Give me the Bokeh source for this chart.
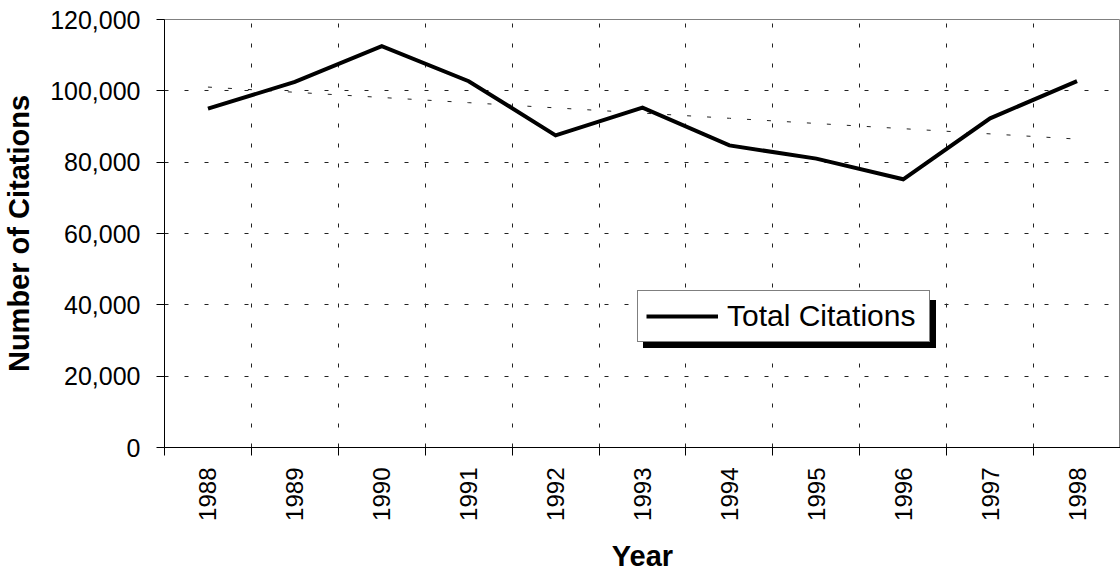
import numpy as np
from bokeh.plotting import figure
from bokeh.models import (FixedTicker, NumeralTickFormatter, Range1d, Legend,
                          LegendItem)
from bokeh.embed import file_html
from bokeh.resources import INLINE

years = ["1988", "1989", "1990", "1991", "1992", "1993", "1994", "1995",
         "1996", "1997", "1998"]
citations = [95000, 102500, 112500, 102700, 87500, 95300, 84700, 81000,
             75200, 92300, 102700]
y_ticks = [0, 20000, 40000, 60000, 80000, 100000, 120000]
series_name = "Total Citations"

xs = list(range(len(years)))
slope, intercept = np.polyfit(xs, citations, 1)
trend = [slope * x + intercept for x in xs]

FONT = "Liberation Sans"

p = figure(width=1120, height=574, output_backend="svg", toolbar_location=None,
           x_range=Range1d(-0.5, len(years) - 0.5),
           y_range=Range1d(y_ticks[0], y_ticks[-1]),
           min_border_left=164, min_border_right=0, min_border_top=19,
           min_border_bottom=127)
p.background_fill_color = "white"
p.border_fill_color = "white"
p.outline_line_color = "#808080"
p.outline_line_width = 1

# trend line
p.line(xs, trend, line_color="#222222", line_width=1, line_dash="4 16")
# data line
r = p.line(xs, citations, line_color="black", line_width=4, line_join="miter")

# x axis: labels at centres, minor ticks at band boundaries
bounds = [i - 0.5 for i in range(len(years) + 1)]
xa = p.xaxis[0]
xa.ticker = FixedTicker(ticks=xs, minor_ticks=bounds)
xa.major_label_overrides = {i: y for i, y in enumerate(years)}
xa.major_label_orientation = np.pi / 2
xa.major_tick_line_color = None
xa.minor_tick_line_color = "black"
xa.minor_tick_in = 0
xa.minor_tick_out = 8
xa.axis_line_color = "black"
xa.major_label_standoff = 12
xa.major_label_text_font = FONT
xa.major_label_text_font_size = "24px"
xa.major_label_text_color = "black"
xa.axis_label = "Year"
xa.axis_label_text_font = FONT
xa.axis_label_text_font_size = "29px"
xa.axis_label_text_font_style = "bold"
xa.axis_label_text_color = "black"
xa.axis_label_standoff = 16

ya = p.yaxis[0]
ya.ticker = FixedTicker(ticks=y_ticks)
ya.formatter = NumeralTickFormatter(format="0,0")
ya.major_tick_in = 0
ya.major_tick_out = 8
ya.minor_tick_line_color = None
ya.axis_line_color = "black"
ya.major_label_standoff = 16
ya.major_label_text_font = FONT
ya.major_label_text_font_size = "25px"
ya.major_label_text_color = "black"
ya.axis_label = "Number of Citations"
ya.axis_label_text_font = FONT
ya.axis_label_text_font_size = "29px"
ya.axis_label_text_font_style = "bold"
ya.axis_label_text_color = "black"
ya.axis_label_standoff = 12

# grids
p.xgrid.grid_line_color = None
p.xgrid.minor_grid_line_color = "#222222"
p.xgrid.minor_grid_line_dash = "4 16"
p.xgrid.minor_grid_line_width = 1
p.ygrid.ticker = FixedTicker(ticks=y_ticks[1:-1])
p.ygrid.grid_line_color = "#222222"
p.ygrid.grid_line_dash = "4 16"
p.ygrid.grid_line_width = 1

def make_legend(loc, bg, label):
    lg = Legend(items=[LegendItem(label=label, renderers=[r])],
                location=loc, orientation="vertical")
    lg.background_fill_color = bg
    lg.background_fill_alpha = 1
    lg.border_line_color = "black"
    lg.border_line_width = 1
    lg.label_text_font = FONT
    lg.label_text_font_size = "30px"
    lg.label_text_color = "black"
    lg.glyph_width = 72
    lg.glyph_height = 30
    lg.label_height = 30
    lg.label_width = 194
    lg.label_standoff = 9
    lg.padding = 8
    lg.margin = 0
    lg.spacing = 0
    return lg

# drop shadow behind the legend box, then the legend itself
p.add_layout(make_legend((479, 99), "black", " "), "center")
p.add_layout(make_legend((473, 105), "white", series_name), "center")

open("out.html", "w").write(file_html(p, INLINE))
